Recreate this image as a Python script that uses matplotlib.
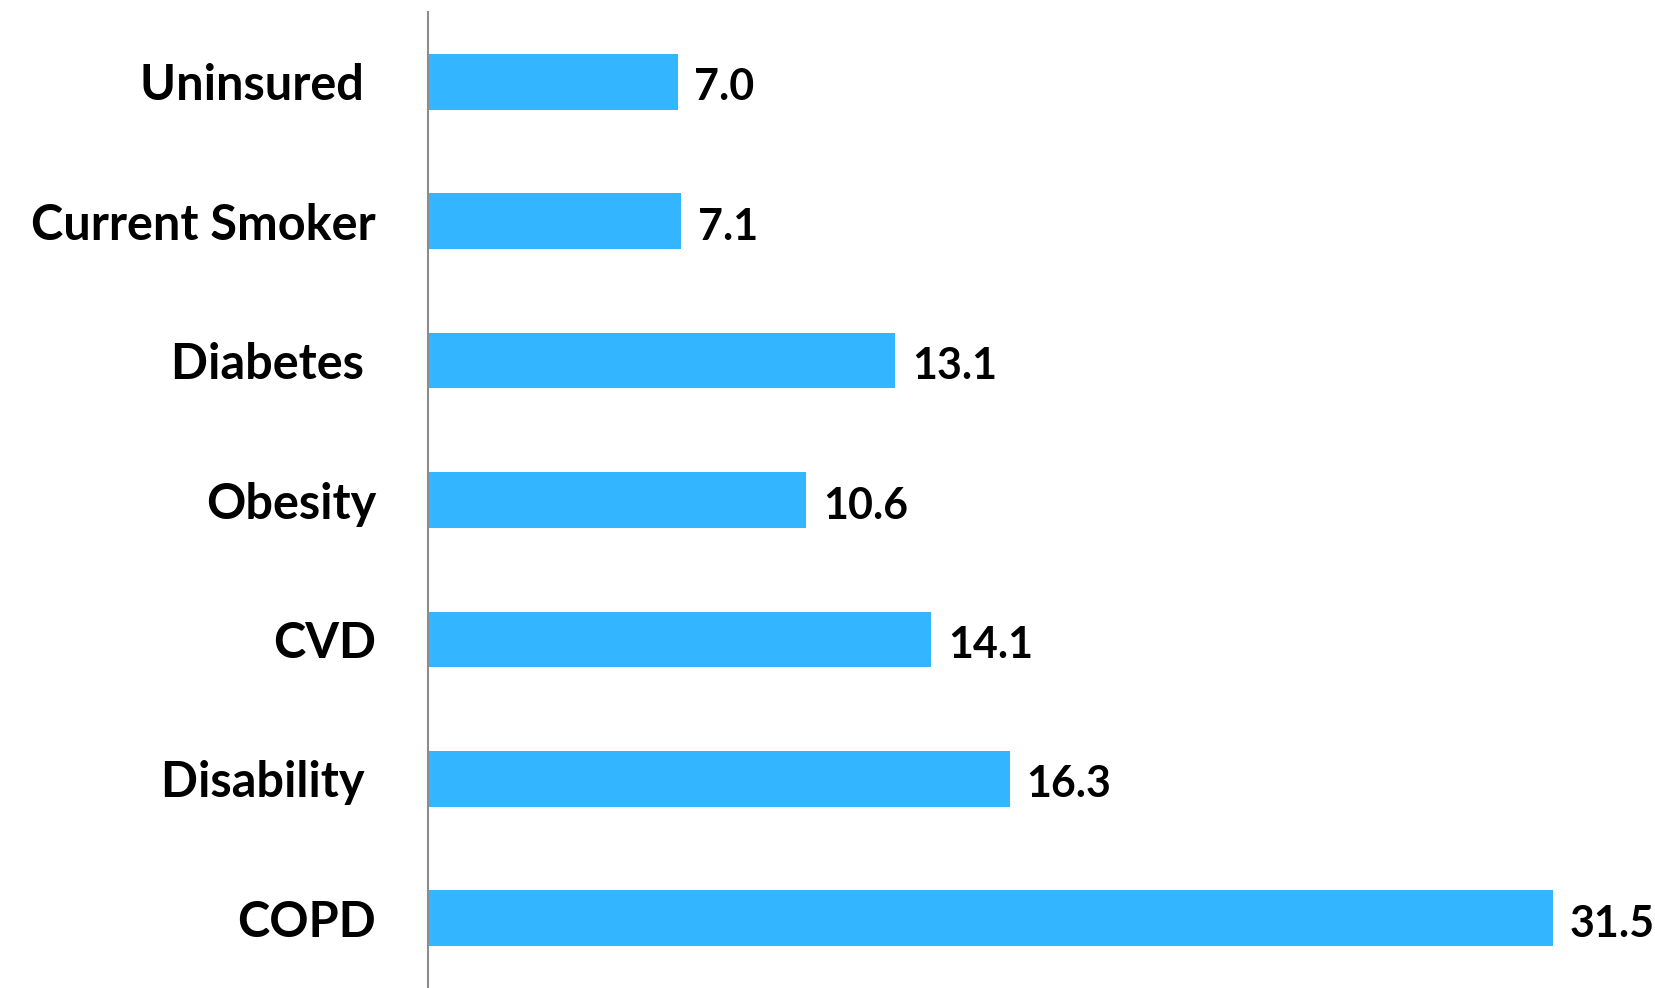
import matplotlib
matplotlib.use("Agg")
import matplotlib.pyplot as plt

categories = ["Uninsured ", "Current Smoker", "Diabetes ", "Obesity", "CVD", "Disability ", "COPD"]
values = [7.0, 7.1, 13.1, 10.6, 14.1, 16.3, 31.5]
value_labels = ["7.0", "7.1", "13.1", "10.6", "14.1", "16.3", "31.5"]

plt.rcParams['font.family'] = ['Lato', 'DejaVu Sans']

fig = plt.figure(figsize=(16.55, 9.88), dpi=100)
ax = fig.add_axes([427.5 / 1655, 0.0, 1 - 427.5 / 1655, (988 - 12) / 988])

pos = list(range(len(categories)))
ax.barh(pos, values, height=0.4, color="#33B5FF")
ax.set_ylim(6.5, -0.5)
ax.set_xlim(0, 34.37)
ax.set_yticks(pos)
ax.set_yticklabels(categories, fontsize=35, fontweight="bold")
ax.tick_params(axis="y", length=0, pad=37)
ax.set_xticks([])
for s in ["top", "right", "bottom"]:
    ax.spines[s].set_visible(False)
ax.spines["left"].set_color("#8c8c8c")
ax.spines["left"].set_linewidth(1.5)

for p, v, t in zip(pos, values, value_labels):
    ax.annotate(t, (v, p), xytext=(12, -4), textcoords="offset points",
                va="center", ha="left", fontsize=31, fontweight="bold")

fig.savefig("out.png", dpi=100)
